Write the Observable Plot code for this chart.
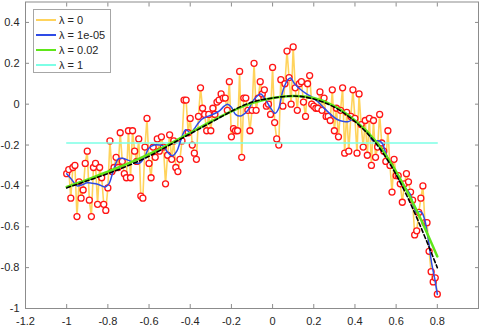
<!DOCTYPE html>
<html><head><meta charset="utf-8">
<script src="https://cdn.jsdelivr.net/npm/d3@7"></script>
<script src="https://cdn.jsdelivr.net/npm/@observablehq/plot@0.6"></script>
<style>
body{margin:0;background:#fff;}
#wrap{position:relative;width:479px;height:329px;overflow:hidden;}
#legend{position:absolute;left:33px;top:9px;width:78px;height:64px;box-sizing:border-box;border:1px solid #a6a6a6;background:#fff;font:11px "Liberation Sans",Arial,sans-serif;color:#262626;}
.row{position:absolute;left:0;height:14px;display:flex;align-items:center;white-space:nowrap;}
.sw{display:inline-block;width:20px;height:0;border-top:2px solid;margin-left:2px;margin-right:3px;}
</style></head><body><div id="wrap"></div>
<script>
// ---- data ----
const xStart = -1, xStep = 0.01;
const dataY = [
-0.34,-0.32,-0.46,-0.31,-0.30,-0.55,-0.38,-0.46,-0.42,-0.29,
-0.23,-0.47,-0.55,-0.31,-0.29,-0.49,-0.31,-0.36,-0.49,-0.52,
-0.41,-0.18,-0.33,-0.31,-0.26,-0.31,-0.14,-0.28,-0.34,-0.36,
-0.13,-0.36,-0.13,-0.23,-0.28,-0.17,-0.45,-0.46,-0.21,-0.07,
-0.29,-0.36,-0.21,-0.26,-0.17,-0.23,-0.16,-0.21,-0.39,-0.25,
-0.15,-0.27,-0.18,-0.31,-0.33,-0.27,-0.18,0.02,0.02,-0.14,
-0.07,-0.20,-0.24,-0.27,-0.06,0.08,-0.02,-0.05,-0.13,-0.05,
-0.13,-0.02,-0.05,0.01,0.02,0.05,0.03,0.03,-0.03,0.11,
-0.16,-0.12,-0.13,-0.13,0.16,-0.26,0.03,0.03,-0.03,-0.13,
-0.03,0.20,-0.03,0.03,0.11,0.05,0.07,-0.01,0.00,-0.05,
0.18,-0.09,-0.17,-0.20,0.12,-0.01,0.10,0.26,0.13,0.00,
0.28,0.08,-0.03,0.10,0.11,0.01,-0.06,0.10,0.14,0.00,
-0.01,-0.02,-0.02,0.06,-0.03,0.03,-0.06,-0.06,-0.08,0.07,
-0.13,-0.02,-0.16,-0.03,0.08,-0.24,-0.04,-0.23,-0.06,0.07,
-0.07,-0.24,0.05,-0.10,-0.21,-0.08,-0.25,-0.07,-0.30,-0.08,
-0.26,-0.21,-0.05,-0.19,-0.23,-0.28,-0.13,-0.30,-0.43,-0.27,
-0.35,-0.35,-0.39,-0.48,-0.39,-0.34,-0.38,-0.43,-0.47,-0.64,
-0.62,-0.53,-0.46,-0.40,-0.58,-0.58,-0.72,-0.82,-0.87,-0.85,
-0.93
];
const blueX = [-1.00,-0.975,-0.95,-0.925,-0.90,-0.877,-0.845,-0.815,-0.795,-0.772,-0.748,-0.728,-0.70,-0.675,-0.65,-0.625,-0.60,-0.575,-0.55,-0.53,-0.51,-0.487,-0.465,-0.447,-0.422,-0.398,-0.38,-0.366,-0.345,-0.325,-0.29,-0.26,-0.235,-0.219,-0.20,-0.18,-0.155,-0.123,-0.091,-0.058,-0.034,-0.010,0.013,0.03,0.047,0.071,0.087,0.104,0.136,0.165,0.184,0.217,0.249,0.282,0.314,0.346,0.369,0.39,0.41,0.43,0.462,0.486,0.502,0.519,0.535,0.546,0.570,0.595,0.619,0.643,0.668,0.684,0.700,0.716,0.728,0.740,0.757,0.773,0.789,0.80];
const blueY = [-0.341,-0.37,-0.40,-0.395,-0.385,-0.387,-0.393,-0.405,-0.39,-0.32,-0.267,-0.265,-0.275,-0.285,-0.29,-0.265,-0.215,-0.20,-0.20,-0.205,-0.235,-0.253,-0.23,-0.18,-0.125,-0.14,-0.12,-0.10,-0.075,-0.064,-0.05,-0.034,-0.01,0.0,-0.015,-0.05,-0.058,-0.034,0.022,0.05,0.022,-0.018,-0.045,-0.02,0.055,0.115,0.128,0.104,0.072,0.05,0.039,0.015,-0.018,-0.05,-0.075,-0.085,-0.085,-0.075,-0.09,-0.107,-0.14,-0.178,-0.18,-0.18,-0.195,-0.229,-0.286,-0.327,-0.376,-0.408,-0.44,-0.497,-0.53,-0.525,-0.535,-0.57,-0.668,-0.782,-0.863,-0.931];
const smoothX = [-1.0,-0.9,-0.8,-0.7,-0.6,-0.5,-0.4,-0.3,-0.2,-0.1,0.0,0.1,0.2,0.3,0.4,0.5,0.6,0.7,0.8];
const greenY = [-0.405,-0.37,-0.33,-0.29,-0.245,-0.195,-0.14,-0.085,-0.035,0.005,0.03,0.04,0.03,-0.01,-0.08,-0.18,-0.33,-0.52,-0.745];
const trueY  = [-0.41,-0.375,-0.34,-0.30,-0.255,-0.20,-0.145,-0.09,-0.035,0.01,0.03,0.04,0.025,-0.015,-0.085,-0.19,-0.345,-0.555,-0.80];
const cyanX = [-1.0, 0.8];
const cyanY = [-0.19, -0.19];
const xTicks = [-1.2,-1,-0.8,-0.6,-0.4,-0.2,0,0.2,0.4,0.6,0.8];
const yTicks = [-1,-0.8,-0.6,-0.4,-0.2,0,0.2,0.4];
const xDomain = [-1.2, 1];
const yDomain = [-1, 0.5];
const legendLabels = ["λ = 0","λ = 1e-05","λ = 0.02","λ = 1"];
const colors = {yellow:"#FFD35C", blue:"#2E4BE6", green:"#5FE619", cyan:"#7DFFE6", red:"#FF1414", axis:"#8c8c8c", text:"#262626"};

// ---- tables ----
const pts = dataY.map((y,i)=>({x: xStart + i*xStep, y}));
const blue = blueX.map((x,i)=>({x, y: blueY[i]}));
const green = smoothX.map((x,i)=>({x, y: greenY[i]}));
const truth = smoothX.map((x,i)=>({x, y: trueY[i]}));
const cyan = cyanX.map((x,i)=>({x, y: cyanY[i]}));

const fmt = d => String(d);
const chart = Plot.plot({
  width: 479, height: 329,
  marginLeft: 25, marginRight: 1, marginTop: 1.5, marginBottom: 21,
  style: {fontFamily: '"Liberation Sans", Arial, sans-serif', fontSize: "11px", color: colors.text, background: "white", overflow: "visible"},
  x: {domain: xDomain},
  y: {domain: yDomain},
  marks: [
    Plot.line(pts, {x:"x", y:"y", stroke: colors.yellow, strokeWidth: 1.6}),
    Plot.dot(pts, {x:"x", y:"y", r: 3, stroke: colors.red, fill: "white", strokeWidth: 1.3}),
    Plot.line(cyan, {x:"x", y:"y", stroke: colors.cyan, strokeWidth: 1.3}),
    Plot.line(blue, {x:"x", y:"y", stroke: colors.blue, strokeWidth: 1.5, curve: "catmull-rom"}),
    Plot.line(green, {x:"x", y:"y", stroke: colors.green, strokeWidth: 2.5, curve: "natural"}),
    Plot.line(truth, {x:"x", y:"y", stroke: "black", strokeWidth: 1.6, strokeDasharray: "4,2.5", curve: "natural"}),
    Plot.frame({stroke: colors.axis}),
    Plot.axisX(xTicks, {anchor:"bottom", tickSize:-4, tickPadding:13, tickFormat: fmt, stroke: colors.axis, fill: colors.text, label: null}),
    Plot.axisX(xTicks, {anchor:"top", tickSize:-4, tickFormat: () => "", stroke: colors.axis, label: null}),
    Plot.axisY(yTicks, {anchor:"left", tickSize:-4, tickPadding:10, tickFormat: fmt, stroke: colors.axis, fill: colors.text, label: null}),
    Plot.axisY(yTicks, {anchor:"right", tickSize:-4, tickFormat: () => "", stroke: colors.axis, label: null})
  ]
});
const wrap = document.getElementById("wrap");
wrap.appendChild(chart);

// ---- legend ----
const leg = document.createElement("div");
leg.id = "legend";
const legColors = [colors.yellow, colors.blue, colors.green, colors.cyan];
legendLabels.forEach((t,i)=>{
  const r = document.createElement("div");
  r.className = "row";
  r.style.top = (3 + i*15) + "px";
  const s = document.createElement("span");
  s.className = "sw";
  s.style.borderTopColor = legColors[i];
  r.appendChild(s);
  r.appendChild(document.createTextNode(t));
  leg.appendChild(r);
});
wrap.appendChild(leg);
</script>
</body></html>
